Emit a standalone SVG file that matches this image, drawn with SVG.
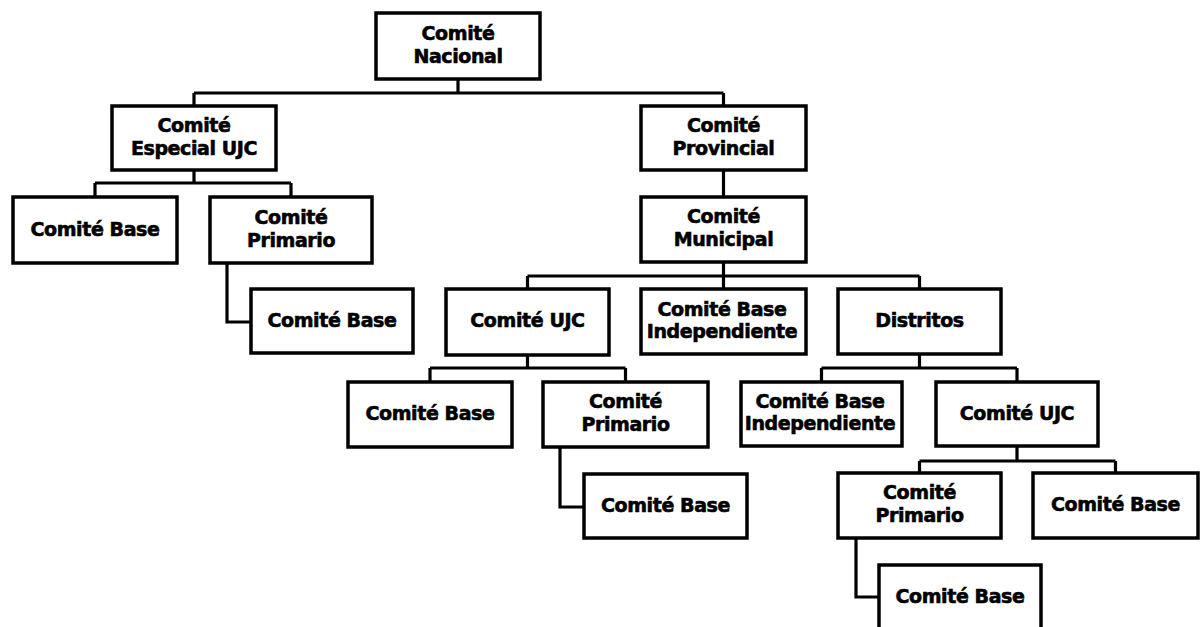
<svg xmlns="http://www.w3.org/2000/svg" width="1201" height="627" viewBox="0 0 1201 627">
<style>
.box{fill:#fff;stroke:#000;stroke-width:3.5}
.lbl{font-family:"DejaVu Sans",Verdana,sans-serif;font-weight:bold;font-size:19px;fill:#000;stroke:#000;stroke-width:0.6;text-anchor:middle;letter-spacing:-0.4px}
.con{fill:none;stroke:#000;stroke-width:3.2;stroke-linejoin:miter}
</style>
<rect width="1201" height="627" fill="#fff"/>
<g id="connectors">
<path class="con" d="M458 79V93M194 93H723.5M194 93V106M723.5 93V106"/>
<path class="con" d="M194 170V183M95 183H291M95 183V197M291 183V197"/>
<path class="con" d="M227 263V322H251"/>
<path class="con" d="M723.5 170V197"/>
<path class="con" d="M723.5 262V289M527.5 276H919.5M527.5 276V289M919.5 276V289"/>
<path class="con" d="M527.5 355V368M430 368H625.5M430 368V382M625.5 368V382"/>
<path class="con" d="M560 447V507H584"/>
<path class="con" d="M919.5 354V368M821.5 368H1017M821.5 368V382M1017 368V382"/>
<path class="con" d="M1017 446V461M919.5 461H1115.5M919.5 461V473M1115.5 461V473"/>
<path class="con" d="M856 538V597H879"/>
</g>
<g id="n-nacional"><rect class="box" x="376" y="13" width="164" height="66"/><text class="lbl" x="458" y="40">Comité</text><text class="lbl" x="458" y="63">Nacional</text></g>
<g id="n-especial"><rect class="box" x="112" y="106" width="164" height="64"/><text class="lbl" x="194" y="132">Comité</text><text class="lbl" x="194" y="155">Especial UJC</text></g>
<g id="n-provincial"><rect class="box" x="641" y="106" width="165" height="64"/><text class="lbl" x="723.5" y="132">Comité</text><text class="lbl" x="723.5" y="155">Provincial</text></g>
<g id="n-base-l1"><rect class="box" x="13" y="197" width="164" height="66"/><text class="lbl" x="95" y="236">Comité Base</text></g>
<g id="n-primario-l1"><rect class="box" x="210" y="197" width="162" height="66"/><text class="lbl" x="291" y="224">Comité</text><text class="lbl" x="291" y="247">Primario</text></g>
<g id="n-base-l2"><rect class="box" x="251" y="289" width="162" height="64"/><text class="lbl" x="332" y="327">Comité Base</text></g>
<g id="n-municipal"><rect class="box" x="641" y="197" width="165" height="65"/><text class="lbl" x="723.5" y="223">Comité</text><text class="lbl" x="723.5" y="246">Municipal</text></g>
<g id="n-ujc-m"><rect class="box" x="446" y="289" width="163" height="66"/><text class="lbl" x="527.5" y="327">Comité UJC</text></g>
<g id="n-baseind-1"><rect class="box" x="641" y="289" width="165" height="65"/><text class="lbl" x="722" y="316">Comité Base</text><text class="lbl" x="722" y="338">Independiente</text></g>
<g id="n-distritos"><rect class="box" x="838" y="289" width="163" height="65"/><text class="lbl" x="919.5" y="327">Distritos</text></g>
<g id="n-base-m1"><rect class="box" x="348" y="382" width="164" height="65"/><text class="lbl" x="430" y="420">Comité Base</text></g>
<g id="n-primario-m"><rect class="box" x="543" y="382" width="165" height="65"/><text class="lbl" x="625.5" y="408">Comité</text><text class="lbl" x="625.5" y="431">Primario</text></g>
<g id="n-base-m2"><rect class="box" x="584" y="474" width="163" height="64"/><text class="lbl" x="665.5" y="512">Comité Base</text></g>
<g id="n-baseind-2"><rect class="box" x="741" y="382" width="161" height="64"/><text class="lbl" x="820" y="408">Comité Base</text><text class="lbl" x="820" y="430">Independiente</text></g>
<g id="n-ujc-r"><rect class="box" x="936" y="382" width="162" height="64"/><text class="lbl" x="1017" y="420">Comité UJC</text></g>
<g id="n-primario-r"><rect class="box" x="838" y="473" width="163" height="65"/><text class="lbl" x="919.5" y="499">Comité</text><text class="lbl" x="919.5" y="522">Primario</text></g>
<g id="n-base-r1"><rect class="box" x="1033" y="473" width="165" height="65"/><text class="lbl" x="1115.5" y="511">Comité Base</text></g>
<g id="n-base-r2"><rect class="box" x="879" y="565" width="162" height="68"/><text class="lbl" x="960" y="603">Comité Base</text></g>
</svg>
